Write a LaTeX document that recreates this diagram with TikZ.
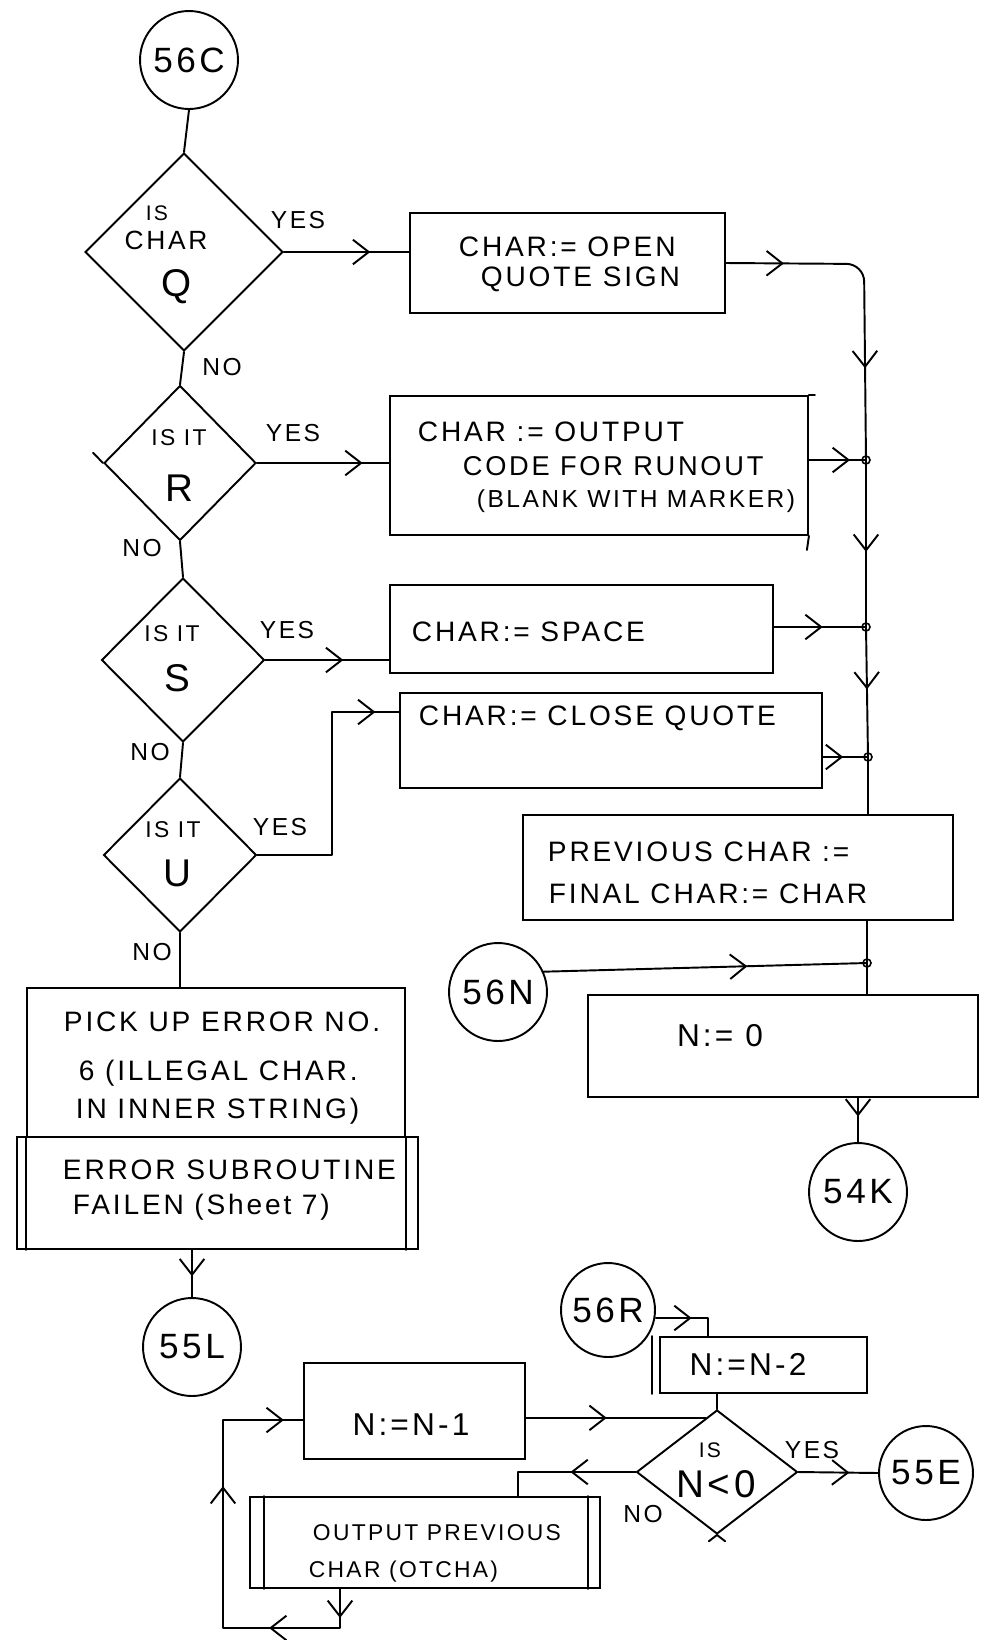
\documentclass[tikz,border=0pt]{standalone}
\usepackage{fontspec}
\setmainfont{Liberation Sans}[LetterSpace=10]
\usetikzlibrary{shapes.geometric,arrows.meta,decorations.markings,calc}
\tikzset{
  flow/.style={line width=1.1pt, line cap=round, line join=round},
  chev/.style={postaction={decorate, decoration={markings, mark=at position #1 with {\arrow{Straight Barb[length=9pt,width=14pt]}}}}},
  conn/.style={circle, draw, line width=1.1pt, minimum size=1.96cm, inner sep=0pt, font=\fontsize{20}{24}\selectfont},
  junc/.style={circle, draw, line width=0.9pt, minimum size=0.16cm, inner sep=0pt},
  dec/.style={diamond, draw, line width=1.1pt, inner sep=0pt},
  proc/.style={rectangle, draw, line width=1.1pt, inner sep=0pt},
  txt/.style={font=\fontsize{16}{20}\selectfont, inner sep=0pt, anchor=west},
  lab/.style={font=\fontsize{14}{16}\selectfont, inner sep=0pt},
}
\begin{document}
\begin{tikzpicture}[x=0.02cm, y=-0.02cm, line width=1.1pt]
\useasboundingbox (0,0) rectangle (986,1640);

% ---------- top: 56C and decision Q
\node[conn] (c56C) at (189,60) {56C};
\node[dec, minimum width=3.96cm, minimum height=3.96cm] (dQ) at (184,252) {};
\draw[flow] (c56C.south) -- (dQ.north);
\node[lab, font=\fontsize{12}{14}\selectfont] (tQ1) at (157,213) {IS};
\node[lab, font=\fontsize{15}{18}\selectfont] (tQ2) at (166,240) {CHAR};
\node[lab, font=\fontsize{22}{26}\selectfont] (tQ3) at (177,287) {Q};
\node[lab] (yQ) at (298,220) {YES};
\node[proc, minimum width=6.3cm, minimum height=2cm] (bQ) at (567.5,263) {};
\node[txt] (tq1) at (458,247) {CHAR:= OPEN};
\node[txt] (tq2) at (480,279) {QUOTE SIGN};
\draw[flow, chev=0.69] (dQ.east) -- (dQ.east -| bQ.west);
\node[lab] (nQ) at (222,367) {NO};

% ---------- decision R
\node[dec, minimum width=3.04cm, minimum height=3.1cm] (dR) at (180,463) {};
\draw[flow] (dQ.south) -- (dR.north);
\draw[flow] (dR.west) -- ($(dR.west)!-0.13!(dR.south)$);
\node[lab, font=\fontsize{13}{15}\selectfont] (tR1) at (179,438) {IS IT};
\node[lab, font=\fontsize{22}{26}\selectfont] (tR2) at (179,488) {R};
\node[lab] (yR) at (293,433) {YES};
\node[proc, minimum width=8.36cm, minimum height=2.78cm] (bR) at (599,465.5) {};
\draw[flow] (bR.north east) -- ++(6,0);
\draw[flow] (bR.south east) -- ++(-2,14);
\node[txt] (tr1) at (417,432) {CHAR := OUTPUT};
\node[txt, font=\fontsize{15.5}{18}\selectfont] (tr2) at (462,466) {CODE FOR RUNOUT};
\node[txt, font=\fontsize{14}{17}\selectfont] (tr3) at (476,501) {(BLANK WITH MARKER)};
\draw[flow, chev=0.8] (dR.east) -- (dR.east -| bR.west);
\node[lab] (nR) at (142,548) {NO};

% ---------- junctions on the right collector line
\coordinate (cQ) at (864,264);
\coordinate (jR) at (866,460);
\coordinate (jS) at (866,627);
\coordinate (jU) at (868,757);
\coordinate (jN) at (867,963);

\draw[flow, rounded corners=10, chev=1.16cm, chev=4.7cm] (bQ.east) -- (cQ) -- (jR);
\draw[flow, chev=0.72] (bR.east |- jR) -- (jR);
\draw[flow, chev=0.55] (jR) -- (jS);

% ---------- decision S
\node[dec, minimum width=3.26cm, minimum height=3.28cm] (dS) at (183,660) {};
\draw[flow] (dR.south) -- (dS.north);
\node[lab, font=\fontsize{13}{15}\selectfont] (tS1) at (172,634) {IS IT};
\node[lab, font=\fontsize{22}{26}\selectfont] (tS2) at (177,678) {S};
\node[lab] (yS) at (287,630) {YES};
\node[proc, minimum width=7.66cm, minimum height=1.76cm] (bS) at (581.5,629) {};
\node[txt] (ts1) at (411,632) {CHAR:= SPACE};
\draw[flow, chev=0.63] (dS.east) -- (dS.east -| bS.west);
\draw[flow, chev=0.53] (bS.east |- jS) -- (jS);
\draw[flow, chev=0.48] (jS) -- (jU);
\node[lab] (nS) at (150,752) {NO};

% ---------- decision U
\node[dec, minimum width=3.06cm, minimum height=3.08cm] (dU) at (180,855) {};
\draw[flow] (dS.south) -- (dU.north);
\node[lab, font=\fontsize{13}{15}\selectfont] (tU1) at (173,830) {IS IT};
\node[lab, font=\fontsize{22}{26}\selectfont] (tU2) at (177,873) {U};
\node[lab] (yU) at (280,827) {YES};
\node[proc, minimum width=8.44cm, minimum height=1.9cm] (bU) at (611,740.5) {};
\node[txt] (tu1) at (418,718) {CHAR:= CLOSE QUOTE};
\coordinate (uk) at (332,712);
\draw[flow, chev=5.22cm] (dU.east) -- (dU.east -| uk) -- (uk) -- (uk -| bU.west);
\draw[flow, chev=0.45] (bU.east |- jU) -- (jU);
\node[lab] (nU) at (152,952) {NO};

% ---------- previous char box
\node[proc, minimum width=8.6cm, minimum height=2.1cm] (bP) at (738,867.5) {};
\node[txt] (tp1) at (547,852) {PREVIOUS CHAR :=};
\node[txt] (tp2) at (548,894) {FINAL CHAR:= CHAR};
\draw[flow] (jU) -- (jU |- bP.north);

% ---------- 56N and N:=0
\node[conn] (c56N) at (498,992) {56N};
\node[proc, minimum width=7.8cm, minimum height=2.04cm] (bN0) at (783,1046) {};
\node[lab, font=\fontsize{18}{20}\selectfont] (tn0) at (720,1036) {N:= 0};
\draw[flow] (jN |- bP.south) -- (jN);
\draw[flow] (jN) -- (jN |- bN0.north);
\draw[flow, chev=0.63] (c56N.24) -- (jN);
\node[conn] (c54K) at (858,1192) {54K};
\draw[flow, chev=0.42] (c54K.north |- bN0.south) -- (c54K.north);

% ---------- error box
\node[proc, minimum width=7.56cm, minimum height=2.98cm] (bE1) at (216,1062.5) {};
\node[proc, minimum width=8.02cm, minimum height=2.24cm] (bE2) at (217.5,1193) {};
\draw[flow] (bE1.south west) -- (bE1.south west |- bE2.south);
\draw[flow] (bE1.south east) -- (bE1.south east |- bE2.south);
\node[txt] (te1) at (63,1022) {PICK UP ERROR NO.};
\node[txt] (te2) at (78,1073) {6 (ILLEGAL CHAR.};
\node[txt] (te3) at (75,1111) {IN INNER STRING)};
\node[txt] (te4) at (62,1170) {ERROR SUBROUTINE};
\node[txt] (te5) at (72,1207) {FAILEN (Sheet 7)};
\draw[flow] (dU.south) -- (dU.south |- bE1.north);
\node[conn] (c55L) at (192,1347) {55L};
\draw[flow, chev=0.56] (c55L.north |- bE2.south) -- (c55L.north);

% ---------- bottom loop
\node[proc, minimum width=4.42cm, minimum height=1.92cm] (bN1) at (414.5,1411) {};
\node[lab, font=\fontsize{18}{20}\selectfont] (tn1) at (411,1425) {N:=N-1};
\node[conn, minimum size=1.88cm] (c56R) at (608,1310) {56R};
\node[proc, minimum width=4.14cm, minimum height=1.12cm] (bN2) at (763.5,1365) {};
\draw[flow] ([xshift=-0.14cm]bN2.north west) -- ([xshift=-0.14cm]bN2.south west);
\node[lab, font=\fontsize{18}{20}\selectfont] (tn2) at (748,1364) {N:=N-2};
\coordinate (rk) at (708,1318);
\draw[flow, chev=0.51] (c56R.east |- rk) -- (rk) -- (rk |- bN2.north);

\node[dec, minimum width=3.22cm, minimum height=2.48cm] (dN) at (717,1472) {};
\draw[flow] (dN.north |- bN2.south) -- (dN.north);
\draw[flow] (dN.south) -- ($(dN.south)!-0.1!(dN.west)$);
\draw[flow] (dN.south) -- ($(dN.south)!-0.1!(dN.east)$);
\node[lab, font=\fontsize{12}{14}\selectfont] (tN1) at (710,1450) {IS};
\node[lab, font=\fontsize{22}{26}\selectfont] (tN2) at (716,1484) {N<0};
\node[lab] (yN) at (812,1450) {YES};
\node[conn, minimum size=1.88cm] (c55E) at (926,1473) {55E};
\draw[flow, chev=0.64] (dN.east) -- (c55E.west);
\node[lab] (nN) at (643,1514) {NO};

\coordinate (dNin) at ($(dN.north)!0.14!(dN.west)$);
\draw[flow, chev=0.45] (dNin -| bN1.east) -- (dNin);

\node[proc, minimum width=7cm, minimum height=1.82cm] (bO) at (425,1542.5) {};
\draw[flow] ([xshift=0.3cm]bO.north west) -- ([xshift=0.3cm]bO.south west);
\draw[flow] ([xshift=-0.26cm]bO.north east) -- ([xshift=-0.26cm]bO.south east);
\node[txt, font=\fontsize{13}{16}\selectfont] (to1) at (312,1533) {OUTPUT PREVIOUS};
\node[txt, font=\fontsize{13}{16}\selectfont] (to2) at (308,1572) {CHAR (OTCHA)};
\coordinate (nk) at (518,1483);
\draw[flow, chev=0.46] (dN.west) -- (dN.west -| nk) -- (nk |- bO.north);

\coordinate (lb1) at (340,1628);
\coordinate (lb2) at (223,1628);
\coordinate (lt) at (223,1420);
\draw[flow, chev=0.58cm, chev=2.2cm, chev=5.96cm, chev=8.5cm] (lb1 |- bO.south) -- (lb1) -- (lb2) -- (lt) -- (lt -| bN1.west);

% ---------- junction marks
\foreach \j in {jR,jS,jU,jN} \node[junc] (\j-o) at (\j) {};
\end{tikzpicture}
\end{document}
